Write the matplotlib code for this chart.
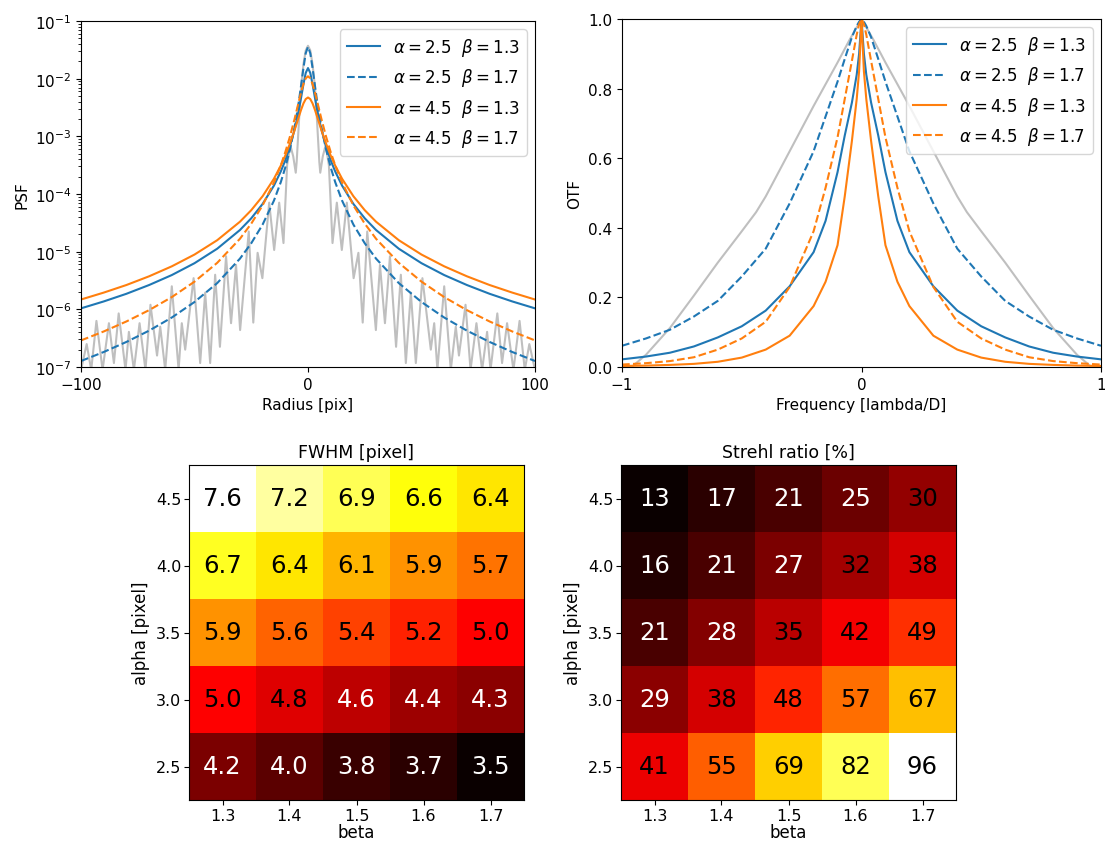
import numpy as np
import matplotlib
matplotlib.use('Agg')
import matplotlib.pyplot as plt

W, H = 1105, 845

# --- PSF radial profiles (right half, mirrored when plotted) ---
radius = np.array([0, 1, 2, 3, 4, 5, 6, 8, 10, 12, 15, 20, 25, 30, 40, 50, 60, 70, 80, 90, 100])
psf_a25_b13 = np.array([1.528e-2, 1.260e-2, 8.03e-3, 4.79e-3, 2.93e-3, 1.886e-3, 1.274e-3, 6.58e-4,
                        3.84e-4, 2.45e-4, 1.40e-4, 6.72e-5, 3.79e-5, 2.37e-5, 1.125e-5, 6.31e-6,
                        3.93e-6, 2.64e-6, 1.86e-6, 1.37e-6, 1.04e-6])
psf_a25_b17 = np.array([3.565e-2, 2.770e-2, 1.538e-2, 7.82e-3, 4.12e-3, 2.31e-3, 1.384e-3, 5.83e-4,
                        2.89e-4, 1.60e-4, 7.69e-5, 2.95e-5, 1.40e-5, 7.55e-6, 2.85e-6, 1.34e-6,
                        7.21e-7, 4.27e-7, 2.72e-7, 1.82e-7, 1.27e-7])
psf_a45_b13 = np.array([4.716e-3, 4.429e-3, 3.729e-3, 2.923e-3, 2.212e-3, 1.658e-3, 1.249e-3, 7.39e-4,
                        4.65e-4, 3.10e-4, 1.84e-4, 9.15e-5, 5.24e-5, 3.30e-5, 1.58e-5, 8.91e-6,
                        5.57e-6, 3.74e-6, 2.64e-6, 1.95e-6, 1.48e-6])
psf_a45_b17 = np.array([1.100e-2, 1.014e-2, 8.10e-3, 5.89e-3, 4.09e-3, 2.81e-3, 1.937e-3, 9.75e-4,
                        5.32e-4, 3.13e-4, 1.585e-4, 6.35e-5, 3.06e-5, 1.67e-5, 6.40e-6, 3.02e-6,
                        1.63e-6, 9.68e-7, 6.16e-7, 4.13e-7, 2.89e-7])

# diffraction limited profile (grey)
dl_radius = np.array([0, 1, 2, 3, 4, 5, 5.4, 6.5, 7.8, 9.2, 10.8, 12.7, 14.9, 17.1, 20.1, 22.2,
                      24.1, 26.1, 29.9, 31.7, 33.9, 36.1, 38.8, 40.9, 43.1, 45.3, 47.5, 50.4,
                      54.1, 55.6, 57.0, 60.0, 62.9, 65.1, 66.5, 69.4, 71.6, 74.2, 76.7, 78.9,
                      80.4, 83.4, 85.5, 87.7, 90.5, 93.2, 95.5, 97.5, 100])
dl_psf = np.array([3.72e-2, 3.09e-2, 1.78e-2, 7.59e-3, 1.78e-3, 3.55e-4, 2.34e-4, 4.47e-4, 7.08e-4,
                   3.16e-4, 1.41e-5, 7.08e-5, 1.07e-5, 7.08e-5, 3.47e-6, 9.55e-6, 5.89e-7, 2.24e-5,
                   4.37e-7, 5.89e-6, 5.75e-7, 8.32e-6, 2.24e-7, 3.98e-6, 1.17e-7, 1.95e-6, 1.17e-7,
                   3.47e-6, 2.0e-7, 5.75e-7, 8.9e-8, 2.51e-6, 8.9e-8, 5.0e-7, 1.58e-7, 1.2e-6, 8.9e-8,
                   5.75e-7, 8.9e-8, 4.07e-7, 8.9e-8, 8.5e-7, 1.17e-7, 5.75e-7, 8.9e-8, 6.3e-7, 8.9e-8,
                   2.5e-7, 8.9e-8])

# --- OTF profiles (right half) ---
freq = np.array([0, 0.01, 0.02, 0.04, 0.07, 0.1, 0.15, 0.2, 0.3, 0.4, 0.5, 0.6, 0.7, 0.8, 0.9, 1.0])
otf_a25_b13 = np.array([1, 0.90, 0.84, 0.76, 0.665, 0.56, 0.42, 0.33, 0.232, 0.162, 0.117, 0.085,
                        0.059, 0.041, 0.030, 0.022])
otf_a25_b17 = np.array([1, 0.992, 0.98, 0.948, 0.885, 0.82, 0.72, 0.62, 0.47, 0.34, 0.26, 0.19,
                        0.145, 0.107, 0.082, 0.061])
otf_a45_b13 = np.array([1, 0.85, 0.77, 0.65, 0.49, 0.35, 0.245, 0.175, 0.09, 0.05, 0.027, 0.015,
                        0.009, 0.006, 0.004, 0.003])
otf_a45_b17 = np.array([1, 0.985, 0.955, 0.88, 0.77, 0.66, 0.515, 0.39, 0.23, 0.13, 0.082, 0.05,
                        0.028, 0.017, 0.011, 0.007])
dl_freq = np.array([0, 0.05, 0.1, 0.2, 0.3, 0.4, 0.44, 0.5, 0.6, 0.7, 0.8, 0.9, 0.96, 1.0])
dl_otf = np.array([1.0, 0.94, 0.875, 0.75, 0.62, 0.49, 0.445, 0.39, 0.30, 0.205, 0.112, 0.035, 0.0, 0.0])

# --- grids ---
beta = [1.3, 1.4, 1.5, 1.6, 1.7]
alpha = [2.5, 3.0, 3.5, 4.0, 4.5]
fwhm = np.array([[4.2, 4.0, 3.8, 3.7, 3.5],
                 [5.0, 4.8, 4.6, 4.4, 4.3],
                 [5.9, 5.6, 5.4, 5.2, 5.0],
                 [6.7, 6.4, 6.1, 5.9, 5.7],
                 [7.6, 7.2, 6.9, 6.6, 6.4]])
strehl = np.array([[41, 55, 69, 82, 96],
                   [29, 38, 48, 57, 67],
                   [21, 28, 35, 42, 49],
                   [16, 21, 27, 32, 38],
                   [13, 17, 21, 25, 30]])

labels = [r'$\alpha = 2.5\ \ \beta = 1.3$', r'$\alpha = 2.5\ \ \beta = 1.7$',
          r'$\alpha = 4.5\ \ \beta = 1.3$', r'$\alpha = 4.5\ \ \beta = 1.7$']
styles = [('C0', '-'), ('C0', '--'), ('C1', '-'), ('C1', '--')]


def mirror(x, y):
    return np.concatenate([-x[::-1], x[1:]]), np.concatenate([y[::-1], y[1:]])


def box(x0, y0, x1, y1):
    return [x0 / W, 1 - y1 / H, (x1 - x0) / W, (y1 - y0) / H]


fig = plt.figure(figsize=(W / 100, H / 100), dpi=100)

# PSF
ax = fig.add_axes(box(81, 22, 535, 368))
xx, yy = mirror(dl_radius, dl_psf)
ax.plot(xx, yy, color='gray', alpha=0.5, lw=1.5)
for prof, lab, (c, ls) in zip([psf_a25_b13, psf_a25_b17, psf_a45_b13, psf_a45_b17], labels, styles):
    xx, yy = mirror(radius, prof)
    ax.plot(xx, yy, color=c, ls=ls, lw=1.5, label=lab)
ax.set_yscale('log')
ax.set_xlim(-100, 100)
ax.set_ylim(1e-7, 1e-1)
ax.set_xticks([-100, 0, 100])
ax.tick_params(labelsize=11)
ax.set_xlabel('Radius [pix]', fontsize=11)
ax.set_ylabel('PSF', fontsize=11)
ax.legend(loc='upper right', fontsize=12)

# OTF
ax = fig.add_axes(box(622, 20, 1101, 368))
xx, yy = mirror(dl_freq, dl_otf)
ax.plot(xx, yy, color='gray', alpha=0.5, lw=1.5)
for prof, lab, (c, ls) in zip([otf_a25_b13, otf_a25_b17, otf_a45_b13, otf_a45_b17], labels, styles):
    xx, yy = mirror(freq, prof)
    ax.plot(xx, yy, color=c, ls=ls, lw=1.5, label=lab)
ax.set_xlim(-1, 1)
ax.set_ylim(0, 1)
ax.set_xticks([-1, 0, 1])
ax.tick_params(labelsize=11)
ax.set_xlabel('Frequency [lambda/D]', fontsize=11)
ax.set_ylabel('OTF', fontsize=11)
ax.legend(loc='upper right', fontsize=12)

# heatmaps
for grid, title, fmt, thr, pos in [(fwhm, 'FWHM [pixel]', '{:.1f}', 4.7, (189, 466, 524, 801)),
                                   (strehl, 'Strehl ratio [%]', '{:.0f}', 29.5, (621, 466, 956, 801))]:
    ax = fig.add_axes(box(*pos))
    ax.imshow(grid, cmap='hot', origin='lower', aspect='auto',
              extent=[1.25, 1.75, 2.25, 4.75])
    for i, a in enumerate(alpha):
        for j, b in enumerate(beta):
            v = grid[i, j]
            ax.text(b, a, fmt.format(v), ha='center', va='center', fontsize=17.5,
                    color='black' if v > thr else 'white')
    ax.set_xticks(beta)
    ax.set_yticks(alpha)
    ax.tick_params(labelsize=11.5, pad=2)
    ax.set_xlabel('beta', fontsize=12, labelpad=0)
    ax.set_ylabel('alpha [pixel]', fontsize=12)
    ax.set_title(title, fontsize=12.5)

fig.savefig('out.png', dpi=100)
